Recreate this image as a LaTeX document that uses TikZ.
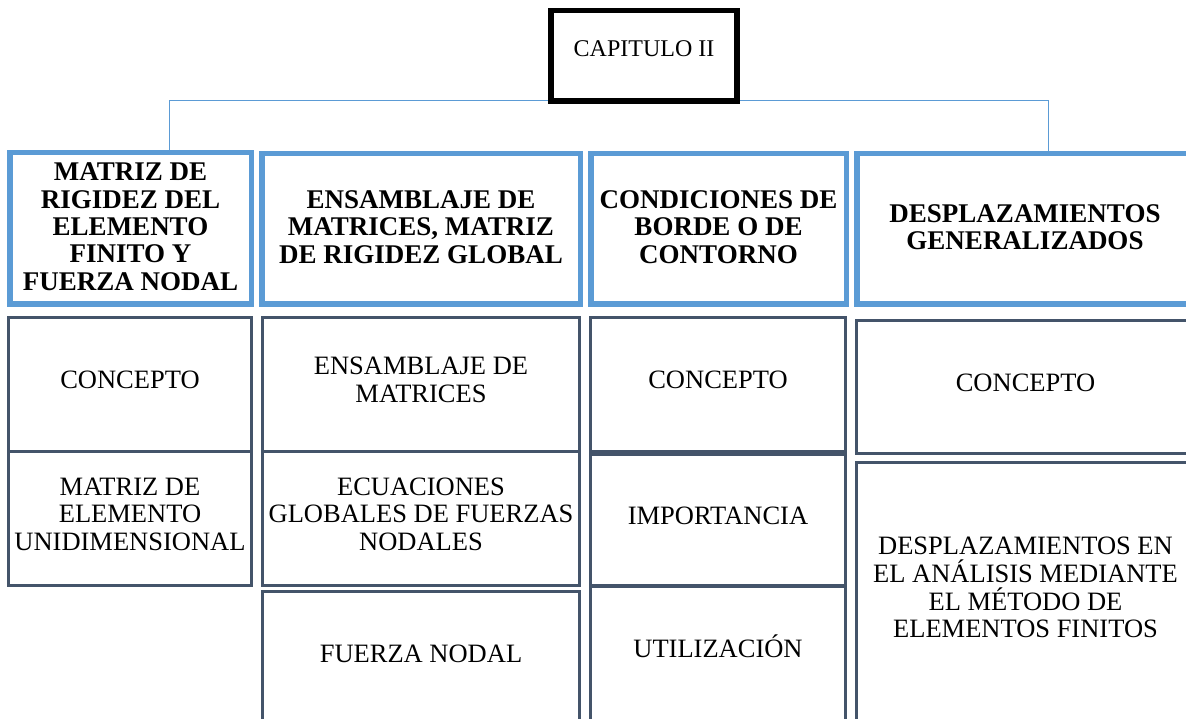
\documentclass[tikz,border=0pt]{standalone}
\usepackage{fontspec}
\setmainfont{Liberation Serif}
\usetikzlibrary{backgrounds}
\definecolor{hblue}{HTML}{5B9BD5}
\definecolor{slate}{HTML}{44546A}
\tikzset{
  hdr/.style={draw=hblue, line width=5.5pt, fill=white, rectangle, inner sep=0pt,
    align=center, font=\bfseries\fontsize{27}{27.4}\selectfont, text depth=4pt},
  cell/.style={draw=slate, line width=3pt, fill=white, rectangle, inner sep=0pt,
    align=center, font=\fontsize{26.5}{27.6}\selectfont, text depth=9pt},
  capbox/.style={draw=black, line width=5.5pt, fill=white, rectangle, inner sep=0pt,
    font=\fontsize{24}{26}\selectfont, text height=20pt, text depth=18pt},
  conn/.style={draw=hblue, line width=1pt}
}
\begin{document}
\begin{tikzpicture}[x=1pt,y=-1pt]
\useasboundingbox (0,0) rectangle (1186,719);
\clip (0,0) rectangle (1186,719);

% title
\node[capbox, minimum width=186pt, minimum height=90.5pt] (cap) at (644,56) {CAPITULO II};

% headers
\node[hdr, minimum width=241.5pt, minimum height=151.5pt] (h1) at (130.5,228.5)
  {MATRIZ DE\\RIGIDEZ DEL\\ELEMENTO\\FINITO Y\\FUERZA NODAL};
\node[hdr, minimum width=318.5pt, minimum height=150.5pt] (h2) at (421,229)
  {ENSAMBLAJE DE\\MATRICES, MATRIZ\\DE RIGIDEZ GLOBAL};
\node[hdr, minimum width=255.5pt, minimum height=150.5pt] (h3) at (718.5,229)
  {CONDICIONES DE\\BORDE O DE\\CONTORNO};
\node[hdr, minimum width=336.5pt, minimum height=150.5pt] (h4) at (1025,229)
  {DESPLAZAMIENTOS\\GENERALIZADOS};

% column 1
\node[cell, minimum width=243pt, minimum height=134pt] (c1a) at (130,384.5) {CONCEPTO};
\node[cell, minimum width=243pt, minimum height=134pt] (c1b) at (130,518.5)
  {MATRIZ DE\\ELEMENTO\\UNIDIMENSIONAL};

% column 2
\node[cell, minimum width=317pt, minimum height=134pt] (c2a) at (421,384.5)
  {ENSAMBLAJE DE\\MATRICES};
\node[cell, minimum width=317pt, minimum height=134pt] (c2b) at (421,518.5)
  {ECUACIONES\\GLOBALES DE FUERZAS\\NODALES};
\node[cell, minimum width=317pt, minimum height=129pt, text depth=4pt] (c2c) at (421,656)
  {FUERZA NODAL};

% column 3
\node[cell, minimum width=255pt, minimum height=134pt] (c3a) at (718,384.5) {CONCEPTO};
\node[cell, minimum width=255pt, minimum height=131pt] (c3b) at (718,520) {IMPORTANCIA};
\node[cell, minimum width=255pt, minimum height=134pt, text height=17.5pt, text depth=9pt] (c3c) at (718,653.5)
  {UTILIZACIÓN};

% column 4
\node[cell, minimum width=338pt, minimum height=133pt] (c4a) at (1025.5,387) {CONCEPTO};
\node[cell, minimum width=338pt, minimum height=258pt, text depth=8pt] (c4b) at (1025.5,591.5)
  {DESPLAZAMIENTOS EN\\EL ANÁLISIS MEDIANTE\\EL MÉTODO DE\\ELEMENTOS FINITOS};

% connectors
\coordinate (j1) at (169,100.5);
\coordinate (j4) at (1048,100.5);
\begin{pgfonlayer}{background}
\draw[conn] (h1.north -| j1) -- (j1) -- (j4) -- (h4.north -| j4);
\end{pgfonlayer}
\end{tikzpicture}
\end{document}
